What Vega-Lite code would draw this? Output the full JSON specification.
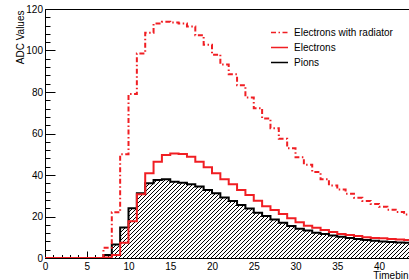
{
"$schema":"https://vega.github.io/schema/vega-lite/v6.json",
"width":366,"height":249,
"autosize":{"type":"none"},
"padding":{"left":45,"top":9,"right":-2,"bottom":22},
"background":"#ffffff",
"config":{
 "view":{"stroke":"#000000","strokeWidth":1},
 "axis":{"labelFont":"Liberation Sans","titleFont":"Liberation Sans","labelFontSize":10,"titleFontSize":10,"titleFontWeight":"normal","domainColor":"#000000","tickColor":"#000000","labelColor":"#000000","titleColor":"#000000","grid":false,"zindex":1,"labelOverlap":false,"labelFlush":false}
},
"data":{"values":[
{"b":0,"s":"P","v":0},{"b":1,"s":"P","v":0},{"b":2,"s":"P","v":0},{"b":3,"s":"P","v":0},{"b":4,"s":"P","v":0},{"b":5,"s":"P","v":0},{"b":6,"s":"P","v":0},{"b":7,"s":"P","v":1.4},{"b":8,"s":"P","v":6.5},{"b":9,"s":"P","v":14.7},{"b":10,"s":"P","v":24},{"b":11,"s":"P","v":31.2},{"b":12,"s":"P","v":36},{"b":13,"s":"P","v":37.6},{"b":14,"s":"P","v":37.9},{"b":15,"s":"P","v":36.8},{"b":16,"s":"P","v":36.3},{"b":17,"s":"P","v":35.5},{"b":18,"s":"P","v":34.4},{"b":19,"s":"P","v":32.8},{"b":20,"s":"P","v":31.2},{"b":21,"s":"P","v":29.2},{"b":22,"s":"P","v":27.5},{"b":23,"s":"P","v":25.5},{"b":24,"s":"P","v":23.9},{"b":25,"s":"P","v":21.8},{"b":26,"s":"P","v":20.2},{"b":27,"s":"P","v":18.6},{"b":28,"s":"P","v":17},{"b":29,"s":"P","v":15.4},{"b":30,"s":"P","v":14.1},{"b":31,"s":"P","v":13.2},{"b":32,"s":"P","v":12.2},{"b":33,"s":"P","v":11.6},{"b":34,"s":"P","v":10.9},{"b":35,"s":"P","v":10.3},{"b":36,"s":"P","v":9.6},{"b":37,"s":"P","v":9.2},{"b":38,"s":"P","v":8.7},{"b":39,"s":"P","v":8.3},{"b":40,"s":"P","v":8},{"b":41,"s":"P","v":7.7},{"b":42,"s":"P","v":7.5},{"b":43,"s":"P","v":7.3},{"b":44,"s":"P","v":7.3},
{"b":0,"s":"E","v":0},{"b":1,"s":"E","v":0},{"b":2,"s":"E","v":0},{"b":3,"s":"E","v":0},{"b":4,"s":"E","v":0},{"b":5,"s":"E","v":0},{"b":6,"s":"E","v":0},{"b":7,"s":"E","v":0.3},{"b":8,"s":"E","v":1.4},{"b":9,"s":"E","v":7.4},{"b":10,"s":"E","v":17.7},{"b":11,"s":"E","v":30.7},{"b":12,"s":"E","v":40.8},{"b":13,"s":"E","v":46.4},{"b":14,"s":"E","v":49.6},{"b":15,"s":"E","v":50.4},{"b":16,"s":"E","v":50.1},{"b":17,"s":"E","v":48.8},{"b":18,"s":"E","v":46.4},{"b":19,"s":"E","v":43.7},{"b":20,"s":"E","v":40.8},{"b":21,"s":"E","v":37.9},{"b":22,"s":"E","v":35.5},{"b":23,"s":"E","v":32.8},{"b":24,"s":"E","v":30.4},{"b":25,"s":"E","v":27.6},{"b":26,"s":"E","v":25},{"b":27,"s":"E","v":23.1},{"b":28,"s":"E","v":21.2},{"b":29,"s":"E","v":19.1},{"b":30,"s":"E","v":17.2},{"b":31,"s":"E","v":15.6},{"b":32,"s":"E","v":14.6},{"b":33,"s":"E","v":13.5},{"b":34,"s":"E","v":12.5},{"b":35,"s":"E","v":11.6},{"b":36,"s":"E","v":11.1},{"b":37,"s":"E","v":10.6},{"b":38,"s":"E","v":10},{"b":39,"s":"E","v":9.6},{"b":40,"s":"E","v":9.5},{"b":41,"s":"E","v":9.2},{"b":42,"s":"E","v":8.9},{"b":43,"s":"E","v":8.7},{"b":44,"s":"E","v":8.7},
{"b":0,"s":"R","v":0},{"b":1,"s":"R","v":0},{"b":2,"s":"R","v":0},{"b":3,"s":"R","v":0},{"b":4,"s":"R","v":0},{"b":5,"s":"R","v":0},{"b":6,"s":"R","v":0},{"b":7,"s":"R","v":5},{"b":8,"s":"R","v":22},{"b":9,"s":"R","v":50},{"b":10,"s":"R","v":79},{"b":11,"s":"R","v":98.6},{"b":12,"s":"R","v":108.6},{"b":13,"s":"R","v":113},{"b":14,"s":"R","v":113.8},{"b":15,"s":"R","v":113.5},{"b":16,"s":"R","v":113},{"b":17,"s":"R","v":111.6},{"b":18,"s":"R","v":107.3},{"b":19,"s":"R","v":102.8},{"b":20,"s":"R","v":98},{"b":21,"s":"R","v":93.2},{"b":22,"s":"R","v":88.5},{"b":23,"s":"R","v":83.2},{"b":24,"s":"R","v":77.4},{"b":25,"s":"R","v":72.2},{"b":26,"s":"R","v":67.2},{"b":27,"s":"R","v":62.5},{"b":28,"s":"R","v":57.5},{"b":29,"s":"R","v":52.9},{"b":30,"s":"R","v":48.5},{"b":31,"s":"R","v":45},{"b":32,"s":"R","v":41.5},{"b":33,"s":"R","v":38},{"b":34,"s":"R","v":35},{"b":35,"s":"R","v":33},{"b":36,"s":"R","v":31},{"b":37,"s":"R","v":29},{"b":38,"s":"R","v":27.5},{"b":39,"s":"R","v":26},{"b":40,"s":"R","v":24.7},{"b":41,"s":"R","v":23.3},{"b":42,"s":"R","v":22.2},{"b":43,"s":"R","v":21},{"b":44,"s":"R","v":21}
]},
"encoding":{
 "x":{"field":"b","type":"quantitative","scale":{"domain":[0,43.83],"nice":false,"zero":false},
  "axis":{"values":[0,1,2,3,4,5,6,7,8,9,10,11,12,13,14,15,16,17,18,19,20,21,22,23,24,25,26,27,28,29,30,31,32,33,34,35,36,37,38,39,40,41,42,43],
   "tickSize":{"condition":{"test":"datum.value % 5 === 0","value":-7},"value":-3.5},
   "labelExpr":"datum.value % 5 === 0 ? datum.label : ''","labelPadding":10.5,
   "title":"Timebin","titleAnchor":"end","titleAlign":"right","titleX":363,"titleY":22,"titleBaseline":"bottom"}},
 "y":{"field":"v","type":"quantitative","scale":{"domain":[0,120],"nice":false},
  "axis":{"values":[0,4,8,12,16,20,24,28,32,36,40,44,48,52,56,60,64,68,72,76,80,84,88,92,96,100,104,108,112,116,120],
   "tickSize":{"condition":{"test":"datum.value % 20 === 0","value":-10},"value":-5},
   "labelExpr":"datum.value % 20 === 0 ? datum.label : ''","labelPadding":12.5,
   "title":"ADC Values","titleAnchor":"end","titleAngle":-90,"titleAlign":"right","titleBaseline":"alphabetic","titleX":-22,"titleY":1}}
},
"layer":[
 {"transform":[{"filter":"datum.s == 'P'"}],
  "mark":{"type":"area","interpolate":"step-after","clip":true,
   "fill":{"gradient":"linear","x1":0,"y1":0,"x2":1.3018,"y2":0.2787,"stops":[
{"offset":0,"color":"#000"},{"offset":0.002,"color":"#000"},{"offset":0.002,"color":"#fff"},{"offset":0.008,"color":"#fff"},
{"offset":0.008,"color":"#000"},{"offset":0.01,"color":"#000"},{"offset":0.01,"color":"#fff"},{"offset":0.016,"color":"#fff"},
{"offset":0.016,"color":"#000"},{"offset":0.018,"color":"#000"},{"offset":0.018,"color":"#fff"},{"offset":0.024,"color":"#fff"},
{"offset":0.024,"color":"#000"},{"offset":0.026,"color":"#000"},{"offset":0.026,"color":"#fff"},{"offset":0.032,"color":"#fff"},
{"offset":0.032,"color":"#000"},{"offset":0.034,"color":"#000"},{"offset":0.034,"color":"#fff"},{"offset":0.04,"color":"#fff"},
{"offset":0.04,"color":"#000"},{"offset":0.042,"color":"#000"},{"offset":0.042,"color":"#fff"},{"offset":0.048,"color":"#fff"},
{"offset":0.048,"color":"#000"},{"offset":0.05,"color":"#000"},{"offset":0.05,"color":"#fff"},{"offset":0.056,"color":"#fff"},
{"offset":0.056,"color":"#000"},{"offset":0.058,"color":"#000"},{"offset":0.058,"color":"#fff"},{"offset":0.064,"color":"#fff"},
{"offset":0.064,"color":"#000"},{"offset":0.066,"color":"#000"},{"offset":0.066,"color":"#fff"},{"offset":0.072,"color":"#fff"},
{"offset":0.072,"color":"#000"},{"offset":0.074,"color":"#000"},{"offset":0.074,"color":"#fff"},{"offset":0.08,"color":"#fff"},
{"offset":0.08,"color":"#000"},{"offset":0.082,"color":"#000"},{"offset":0.082,"color":"#fff"},{"offset":0.088,"color":"#fff"},
{"offset":0.088,"color":"#000"},{"offset":0.09,"color":"#000"},{"offset":0.09,"color":"#fff"},{"offset":0.096,"color":"#fff"},
{"offset":0.096,"color":"#000"},{"offset":0.098,"color":"#000"},{"offset":0.098,"color":"#fff"},{"offset":0.104,"color":"#fff"},
{"offset":0.104,"color":"#000"},{"offset":0.106,"color":"#000"},{"offset":0.106,"color":"#fff"},{"offset":0.112,"color":"#fff"},
{"offset":0.112,"color":"#000"},{"offset":0.114,"color":"#000"},{"offset":0.114,"color":"#fff"},{"offset":0.12,"color":"#fff"},
{"offset":0.12,"color":"#000"},{"offset":0.122,"color":"#000"},{"offset":0.122,"color":"#fff"},{"offset":0.128,"color":"#fff"},
{"offset":0.128,"color":"#000"},{"offset":0.13,"color":"#000"},{"offset":0.13,"color":"#fff"},{"offset":0.136,"color":"#fff"},
{"offset":0.136,"color":"#000"},{"offset":0.138,"color":"#000"},{"offset":0.138,"color":"#fff"},{"offset":0.144,"color":"#fff"},
{"offset":0.144,"color":"#000"},{"offset":0.146,"color":"#000"},{"offset":0.146,"color":"#fff"},{"offset":0.152,"color":"#fff"},
{"offset":0.152,"color":"#000"},{"offset":0.154,"color":"#000"},{"offset":0.154,"color":"#fff"},{"offset":0.16,"color":"#fff"},
{"offset":0.16,"color":"#000"},{"offset":0.162,"color":"#000"},{"offset":0.162,"color":"#fff"},{"offset":0.168,"color":"#fff"},
{"offset":0.168,"color":"#000"},{"offset":0.17,"color":"#000"},{"offset":0.17,"color":"#fff"},{"offset":0.176,"color":"#fff"},
{"offset":0.176,"color":"#000"},{"offset":0.178,"color":"#000"},{"offset":0.178,"color":"#fff"},{"offset":0.184,"color":"#fff"},
{"offset":0.184,"color":"#000"},{"offset":0.186,"color":"#000"},{"offset":0.186,"color":"#fff"},{"offset":0.192,"color":"#fff"},
{"offset":0.192,"color":"#000"},{"offset":0.194,"color":"#000"},{"offset":0.194,"color":"#fff"},{"offset":0.2,"color":"#fff"},
{"offset":0.2,"color":"#000"},{"offset":0.202,"color":"#000"},{"offset":0.202,"color":"#fff"},{"offset":0.208,"color":"#fff"},
{"offset":0.208,"color":"#000"},{"offset":0.21,"color":"#000"},{"offset":0.21,"color":"#fff"},{"offset":0.216,"color":"#fff"},
{"offset":0.216,"color":"#000"},{"offset":0.218,"color":"#000"},{"offset":0.218,"color":"#fff"},{"offset":0.224,"color":"#fff"},
{"offset":0.224,"color":"#000"},{"offset":0.226,"color":"#000"},{"offset":0.226,"color":"#fff"},{"offset":0.232,"color":"#fff"},
{"offset":0.232,"color":"#000"},{"offset":0.234,"color":"#000"},{"offset":0.234,"color":"#fff"},{"offset":0.24,"color":"#fff"},
{"offset":0.24,"color":"#000"},{"offset":0.242,"color":"#000"},{"offset":0.242,"color":"#fff"},{"offset":0.248,"color":"#fff"},
{"offset":0.248,"color":"#000"},{"offset":0.25,"color":"#000"},{"offset":0.25,"color":"#fff"},{"offset":0.256,"color":"#fff"},
{"offset":0.256,"color":"#000"},{"offset":0.258,"color":"#000"},{"offset":0.258,"color":"#fff"},{"offset":0.264,"color":"#fff"},
{"offset":0.264,"color":"#000"},{"offset":0.266,"color":"#000"},{"offset":0.266,"color":"#fff"},{"offset":0.272,"color":"#fff"},
{"offset":0.272,"color":"#000"},{"offset":0.274,"color":"#000"},{"offset":0.274,"color":"#fff"},{"offset":0.28,"color":"#fff"},
{"offset":0.28,"color":"#000"},{"offset":0.282,"color":"#000"},{"offset":0.282,"color":"#fff"},{"offset":0.288,"color":"#fff"},
{"offset":0.288,"color":"#000"},{"offset":0.29,"color":"#000"},{"offset":0.29,"color":"#fff"},{"offset":0.296,"color":"#fff"},
{"offset":0.296,"color":"#000"},{"offset":0.298,"color":"#000"},{"offset":0.298,"color":"#fff"},{"offset":0.304,"color":"#fff"},
{"offset":0.304,"color":"#000"},{"offset":0.306,"color":"#000"},{"offset":0.306,"color":"#fff"},{"offset":0.312,"color":"#fff"},
{"offset":0.312,"color":"#000"},{"offset":0.314,"color":"#000"},{"offset":0.314,"color":"#fff"},{"offset":0.32,"color":"#fff"},
{"offset":0.32,"color":"#000"},{"offset":0.322,"color":"#000"},{"offset":0.322,"color":"#fff"},{"offset":0.328,"color":"#fff"},
{"offset":0.328,"color":"#000"},{"offset":0.33,"color":"#000"},{"offset":0.33,"color":"#fff"},{"offset":0.336,"color":"#fff"},
{"offset":0.336,"color":"#000"},{"offset":0.338,"color":"#000"},{"offset":0.338,"color":"#fff"},{"offset":0.344,"color":"#fff"},
{"offset":0.344,"color":"#000"},{"offset":0.346,"color":"#000"},{"offset":0.346,"color":"#fff"},{"offset":0.352,"color":"#fff"},
{"offset":0.352,"color":"#000"},{"offset":0.354,"color":"#000"},{"offset":0.354,"color":"#fff"},{"offset":0.36,"color":"#fff"},
{"offset":0.36,"color":"#000"},{"offset":0.362,"color":"#000"},{"offset":0.362,"color":"#fff"},{"offset":0.368,"color":"#fff"},
{"offset":0.368,"color":"#000"},{"offset":0.37,"color":"#000"},{"offset":0.37,"color":"#fff"},{"offset":0.376,"color":"#fff"},
{"offset":0.376,"color":"#000"},{"offset":0.378,"color":"#000"},{"offset":0.378,"color":"#fff"},{"offset":0.384,"color":"#fff"},
{"offset":0.384,"color":"#000"},{"offset":0.386,"color":"#000"},{"offset":0.386,"color":"#fff"},{"offset":0.392,"color":"#fff"},
{"offset":0.392,"color":"#000"},{"offset":0.394,"color":"#000"},{"offset":0.394,"color":"#fff"},{"offset":0.4,"color":"#fff"},
{"offset":0.4,"color":"#000"},{"offset":0.402,"color":"#000"},{"offset":0.402,"color":"#fff"},{"offset":0.408,"color":"#fff"},
{"offset":0.408,"color":"#000"},{"offset":0.41,"color":"#000"},{"offset":0.41,"color":"#fff"},{"offset":0.416,"color":"#fff"},
{"offset":0.416,"color":"#000"},{"offset":0.418,"color":"#000"},{"offset":0.418,"color":"#fff"},{"offset":0.424,"color":"#fff"},
{"offset":0.424,"color":"#000"},{"offset":0.426,"color":"#000"},{"offset":0.426,"color":"#fff"},{"offset":0.432,"color":"#fff"},
{"offset":0.432,"color":"#000"},{"offset":0.434,"color":"#000"},{"offset":0.434,"color":"#fff"},{"offset":0.44,"color":"#fff"},
{"offset":0.44,"color":"#000"},{"offset":0.442,"color":"#000"},{"offset":0.442,"color":"#fff"},{"offset":0.448,"color":"#fff"},
{"offset":0.448,"color":"#000"},{"offset":0.45,"color":"#000"},{"offset":0.45,"color":"#fff"},{"offset":0.456,"color":"#fff"},
{"offset":0.456,"color":"#000"},{"offset":0.458,"color":"#000"},{"offset":0.458,"color":"#fff"},{"offset":0.464,"color":"#fff"},
{"offset":0.464,"color":"#000"},{"offset":0.466,"color":"#000"},{"offset":0.466,"color":"#fff"},{"offset":0.472,"color":"#fff"},
{"offset":0.472,"color":"#000"},{"offset":0.474,"color":"#000"},{"offset":0.474,"color":"#fff"},{"offset":0.48,"color":"#fff"},
{"offset":0.48,"color":"#000"},{"offset":0.482,"color":"#000"},{"offset":0.482,"color":"#fff"},{"offset":0.488,"color":"#fff"},
{"offset":0.488,"color":"#000"},{"offset":0.49,"color":"#000"},{"offset":0.49,"color":"#fff"},{"offset":0.496,"color":"#fff"},
{"offset":0.496,"color":"#000"},{"offset":0.498,"color":"#000"},{"offset":0.498,"color":"#fff"},{"offset":0.504,"color":"#fff"},
{"offset":0.504,"color":"#000"},{"offset":0.506,"color":"#000"},{"offset":0.506,"color":"#fff"},{"offset":0.512,"color":"#fff"},
{"offset":0.512,"color":"#000"},{"offset":0.514,"color":"#000"},{"offset":0.514,"color":"#fff"},{"offset":0.52,"color":"#fff"},
{"offset":0.52,"color":"#000"},{"offset":0.522,"color":"#000"},{"offset":0.522,"color":"#fff"},{"offset":0.528,"color":"#fff"},
{"offset":0.528,"color":"#000"},{"offset":0.53,"color":"#000"},{"offset":0.53,"color":"#fff"},{"offset":0.536,"color":"#fff"},
{"offset":0.536,"color":"#000"},{"offset":0.538,"color":"#000"},{"offset":0.538,"color":"#fff"},{"offset":0.544,"color":"#fff"},
{"offset":0.544,"color":"#000"},{"offset":0.546,"color":"#000"},{"offset":0.546,"color":"#fff"},{"offset":0.552,"color":"#fff"},
{"offset":0.552,"color":"#000"},{"offset":0.554,"color":"#000"},{"offset":0.554,"color":"#fff"},{"offset":0.56,"color":"#fff"},
{"offset":0.56,"color":"#000"},{"offset":0.562,"color":"#000"},{"offset":0.562,"color":"#fff"},{"offset":0.568,"color":"#fff"},
{"offset":0.568,"color":"#000"},{"offset":0.57,"color":"#000"},{"offset":0.57,"color":"#fff"},{"offset":0.576,"color":"#fff"},
{"offset":0.576,"color":"#000"},{"offset":0.578,"color":"#000"},{"offset":0.578,"color":"#fff"},{"offset":0.584,"color":"#fff"},
{"offset":0.584,"color":"#000"},{"offset":0.586,"color":"#000"},{"offset":0.586,"color":"#fff"},{"offset":0.592,"color":"#fff"},
{"offset":0.592,"color":"#000"},{"offset":0.594,"color":"#000"},{"offset":0.594,"color":"#fff"},{"offset":0.6,"color":"#fff"},
{"offset":0.6,"color":"#000"},{"offset":0.602,"color":"#000"},{"offset":0.602,"color":"#fff"},{"offset":0.608,"color":"#fff"},
{"offset":0.608,"color":"#000"},{"offset":0.61,"color":"#000"},{"offset":0.61,"color":"#fff"},{"offset":0.616,"color":"#fff"},
{"offset":0.616,"color":"#000"},{"offset":0.618,"color":"#000"},{"offset":0.618,"color":"#fff"},{"offset":0.624,"color":"#fff"},
{"offset":0.624,"color":"#000"},{"offset":0.626,"color":"#000"},{"offset":0.626,"color":"#fff"},{"offset":0.632,"color":"#fff"},
{"offset":0.632,"color":"#000"},{"offset":0.634,"color":"#000"},{"offset":0.634,"color":"#fff"},{"offset":0.64,"color":"#fff"},
{"offset":0.64,"color":"#000"},{"offset":0.642,"color":"#000"},{"offset":0.642,"color":"#fff"},{"offset":0.648,"color":"#fff"},
{"offset":0.648,"color":"#000"},{"offset":0.65,"color":"#000"},{"offset":0.65,"color":"#fff"},{"offset":0.656,"color":"#fff"},
{"offset":0.656,"color":"#000"},{"offset":0.658,"color":"#000"},{"offset":0.658,"color":"#fff"},{"offset":0.664,"color":"#fff"},
{"offset":0.664,"color":"#000"},{"offset":0.666,"color":"#000"},{"offset":0.666,"color":"#fff"},{"offset":0.672,"color":"#fff"},
{"offset":0.672,"color":"#000"},{"offset":0.674,"color":"#000"},{"offset":0.674,"color":"#fff"},{"offset":0.68,"color":"#fff"},
{"offset":0.68,"color":"#000"},{"offset":0.682,"color":"#000"},{"offset":0.682,"color":"#fff"},{"offset":0.688,"color":"#fff"},
{"offset":0.688,"color":"#000"},{"offset":0.69,"color":"#000"},{"offset":0.69,"color":"#fff"},{"offset":0.696,"color":"#fff"},
{"offset":0.696,"color":"#000"},{"offset":0.698,"color":"#000"},{"offset":0.698,"color":"#fff"},{"offset":0.704,"color":"#fff"},
{"offset":0.704,"color":"#000"},{"offset":0.706,"color":"#000"},{"offset":0.706,"color":"#fff"},{"offset":0.712,"color":"#fff"},
{"offset":0.712,"color":"#000"},{"offset":0.714,"color":"#000"},{"offset":0.714,"color":"#fff"},{"offset":0.72,"color":"#fff"},
{"offset":0.72,"color":"#000"},{"offset":0.722,"color":"#000"},{"offset":0.722,"color":"#fff"},{"offset":0.728,"color":"#fff"},
{"offset":0.728,"color":"#000"},{"offset":0.73,"color":"#000"},{"offset":0.73,"color":"#fff"},{"offset":0.736,"color":"#fff"},
{"offset":0.736,"color":"#000"},{"offset":0.738,"color":"#000"},{"offset":0.738,"color":"#fff"},{"offset":0.744,"color":"#fff"},
{"offset":0.744,"color":"#000"},{"offset":0.746,"color":"#000"},{"offset":0.746,"color":"#fff"},{"offset":0.752,"color":"#fff"},
{"offset":0.752,"color":"#000"},{"offset":0.754,"color":"#000"},{"offset":0.754,"color":"#fff"},{"offset":0.76,"color":"#fff"},
{"offset":0.76,"color":"#000"},{"offset":0.762,"color":"#000"},{"offset":0.762,"color":"#fff"},{"offset":0.768,"color":"#fff"},
{"offset":0.768,"color":"#000"},{"offset":0.77,"color":"#000"},{"offset":0.77,"color":"#fff"},{"offset":0.776,"color":"#fff"},
{"offset":0.776,"color":"#000"},{"offset":0.778,"color":"#000"},{"offset":0.778,"color":"#fff"},{"offset":0.784,"color":"#fff"},
{"offset":0.784,"color":"#000"},{"offset":0.786,"color":"#000"},{"offset":0.786,"color":"#fff"},{"offset":0.792,"color":"#fff"},
{"offset":0.792,"color":"#000"},{"offset":0.794,"color":"#000"},{"offset":0.794,"color":"#fff"},{"offset":0.8,"color":"#fff"},
{"offset":0.8,"color":"#000"},{"offset":0.802,"color":"#000"},{"offset":0.802,"color":"#fff"},{"offset":0.808,"color":"#fff"},
{"offset":0.808,"color":"#000"},{"offset":0.81,"color":"#000"},{"offset":0.81,"color":"#fff"},{"offset":0.816,"color":"#fff"},
{"offset":0.816,"color":"#000"},{"offset":0.818,"color":"#000"},{"offset":0.818,"color":"#fff"},{"offset":0.824,"color":"#fff"},
{"offset":0.824,"color":"#000"},{"offset":0.826,"color":"#000"},{"offset":0.826,"color":"#fff"},{"offset":0.832,"color":"#fff"},
{"offset":0.832,"color":"#000"},{"offset":0.834,"color":"#000"},{"offset":0.834,"color":"#fff"},{"offset":0.84,"color":"#fff"},
{"offset":0.84,"color":"#000"},{"offset":0.842,"color":"#000"},{"offset":0.842,"color":"#fff"},{"offset":0.848,"color":"#fff"},
{"offset":0.848,"color":"#000"},{"offset":0.85,"color":"#000"},{"offset":0.85,"color":"#fff"},{"offset":0.856,"color":"#fff"},
{"offset":0.856,"color":"#000"},{"offset":0.858,"color":"#000"},{"offset":0.858,"color":"#fff"},{"offset":0.864,"color":"#fff"},
{"offset":0.864,"color":"#000"},{"offset":0.866,"color":"#000"},{"offset":0.866,"color":"#fff"},{"offset":0.872,"color":"#fff"},
{"offset":0.872,"color":"#000"},{"offset":0.874,"color":"#000"},{"offset":0.874,"color":"#fff"},{"offset":0.88,"color":"#fff"},
{"offset":0.88,"color":"#000"},{"offset":0.882,"color":"#000"},{"offset":0.882,"color":"#fff"},{"offset":0.888,"color":"#fff"},
{"offset":0.888,"color":"#000"},{"offset":0.89,"color":"#000"},{"offset":0.89,"color":"#fff"},{"offset":0.896,"color":"#fff"},
{"offset":0.896,"color":"#000"},{"offset":0.898,"color":"#000"},{"offset":0.898,"color":"#fff"},{"offset":0.904,"color":"#fff"}
   ]}}},
 {"transform":[{"filter":"datum.s == 'P'"}],
  "mark":{"type":"line","interpolate":"step-after","clip":true,"strokeWidth":2},
  "encoding":{
   "color":{"field":"s","type":"nominal","scale":{"domain":["R","E","P"],"range":["#f01e23","#f01e23","#000000"]},
    "legend":{"orient":"none","legendX":225,"legendY":14,"title":null,"symbolType":"stroke","symbolSize":289,"symbolStrokeWidth":1.5,"labelFont":"Liberation Sans","labelFontSize":10,"labelColor":"#000000","rowPadding":-1.5,"padding":0,"labelOffset":5,
     "labelExpr":"datum.label == 'R' ? 'Electrons with radiator' : datum.label == 'E' ? 'Electrons' : 'Pions'"}},
   "strokeDash":{"field":"s","type":"nominal","scale":{"domain":["R","E","P"],"range":[[5,2.5,1.5,2.5],[1,0],[1,0]]},
    "legend":{"orient":"none","legendX":225,"legendY":14,"title":null,"symbolType":"stroke","symbolSize":289,"symbolStrokeWidth":1.5,"labelFont":"Liberation Sans","labelFontSize":10,"labelColor":"#000000","rowPadding":-1.5,"padding":0,"labelOffset":5,
     "labelExpr":"datum.label == 'R' ? 'Electrons with radiator' : datum.label == 'E' ? 'Electrons' : 'Pions'"}}}},
 {"transform":[{"filter":"datum.s == 'E'"}],
  "mark":{"type":"line","interpolate":"step-after","clip":true,"strokeWidth":2},
  "encoding":{
   "color":{"field":"s","type":"nominal"},
   "strokeDash":{"field":"s","type":"nominal"}}},
 {"transform":[{"filter":"datum.s == 'R'"}],
  "mark":{"type":"line","interpolate":"step-after","clip":true,"strokeWidth":2},
  "encoding":{
   "color":{"field":"s","type":"nominal"},
   "strokeDash":{"field":"s","type":"nominal"}}}
]
}
